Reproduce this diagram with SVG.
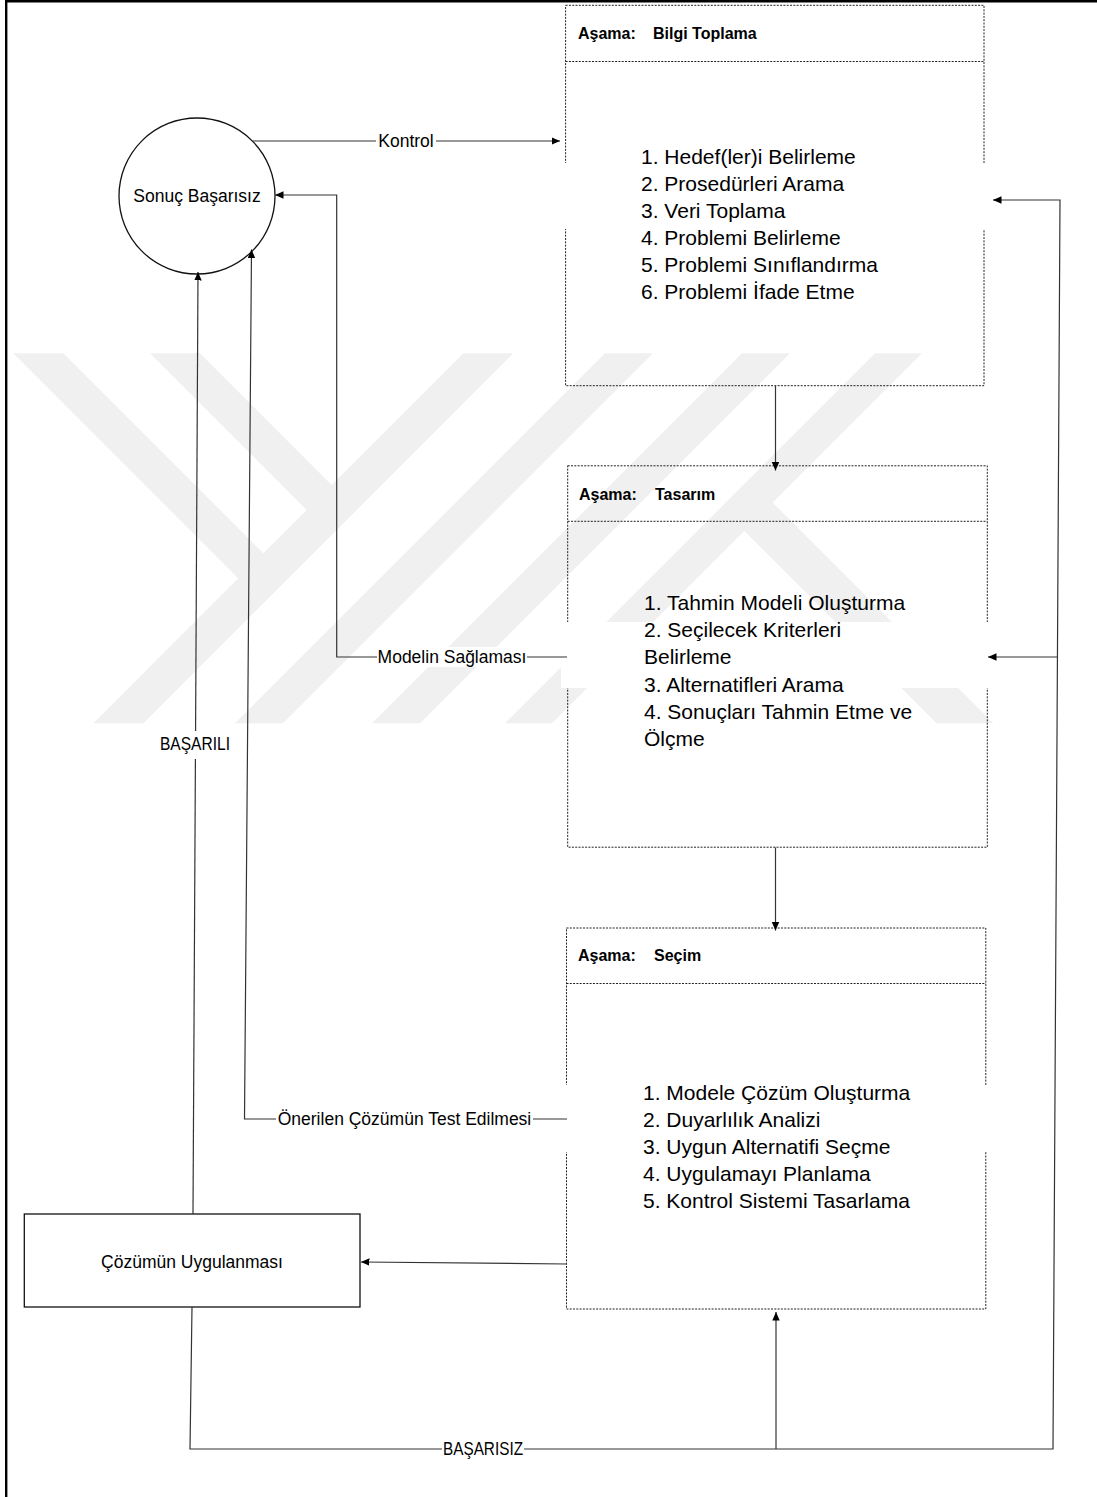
<svg xmlns="http://www.w3.org/2000/svg" width="1097" height="1497" viewBox="0 0 1097 1497">
<style>
  .wm { fill: #f0f0f0; stroke: none; }
  .stage { fill: none; stroke: #222; stroke-width: 1; stroke-dasharray: 2 1.3; }
  .tb { fill: #fff; stroke: none; }
  .hdr { font-family: "Liberation Sans", Arial, sans-serif; font-size: 16px; font-weight: bold; fill: #000; }
  .item { font-family: "Liberation Sans", Arial, sans-serif; font-size: 21px; fill: #000; }
  .lbl { font-family: "Liberation Sans", Arial, sans-serif; font-size: 17.5px; fill: #000; }
  .solid { fill: #fff; stroke: #111; stroke-width: 1.3; }
  .conn { fill: none; stroke: #333; stroke-width: 1.2; }
  .lblbg { fill: #fff; stroke: none; }
</style>
<defs>
  <marker id="ah" markerUnits="userSpaceOnUse" markerWidth="9" markerHeight="8" refX="8.5" refY="3.75" orient="auto">
    <path d="M0,0 L8.5,3.75 L0,7.5 z" fill="#000"/>
  </marker>
</defs>
<rect x="0" y="0" width="1097" height="1497" fill="#fff"/>

<g id="watermark">
  <polygon class="wm" points="13.3,353.3 63.3,353.3 288.3,578.3 263.3,603.3"/>
  <polygon class="wm" points="150,353.3 200,353.3 356.7,510 331.7,535"/>
  <polygon class="wm" points="93.3,723.3 143.3,723.3 513.3,353.3 463.3,353.3"/>
  <polygon class="wm" points="235,723.3 283,723.3 653,353.3 605,353.3"/>
  <polygon class="wm" points="372,723.3 420,723.3 790,353.3 742,353.3"/>
  <polygon class="wm" points="505,723.3 552,723.3 922,353.3 875,353.3"/>
  <polygon class="wm" points="749.2,479.2 993.3,723.3 936.7,723.3 720.9,507.5"/>
</g>

<g id="page-border">
  <line x1="6.2" y1="0" x2="6.2" y2="1497" stroke="#000" stroke-width="2.4"/>
  <line x1="5" y1="1.3" x2="1097" y2="1.3" stroke="#000" stroke-width="2.4"/>
</g>

<g id="node-sonuc">
  <circle cx="197" cy="196" r="78" fill="#fff" stroke="#111" stroke-width="1.3"/>
  <text class="lbl" x="197" y="202" text-anchor="middle">Sonuç Başarısız</text>
</g>

<g id="node-bilgi">
  <rect class="stage" x="565.6" y="5.3" width="418.4" height="380.4"/>
  <line class="stage" x1="565.6" y1="61.5" x2="984" y2="61.5"/>
  <rect class="tb" x="559" y="163" width="433" height="66"/>
  <text class="hdr" x="578" y="39">Aşama:</text>
  <text class="hdr" x="653" y="39">Bilgi Toplama</text>
  <text class="item" x="641" y="164">1. Hedef(ler)i Belirleme</text>
  <text class="item" x="641" y="191">2. Prosedürleri Arama</text>
  <text class="item" x="641" y="218">3. Veri Toplama</text>
  <text class="item" x="641" y="245">4. Problemi Belirleme</text>
  <text class="item" x="641" y="272">5. Problemi Sınıflandırma</text>
  <text class="item" x="641" y="299">6. Problemi İfade Etme</text>
</g>

<g id="node-tasarim">
  <rect class="stage" x="567.7" y="465.8" width="419.6" height="381.4"/>
  <line class="stage" x1="567.7" y1="521.3" x2="987.3" y2="521.3"/>
  <rect class="tb" x="561" y="622" width="427.5" height="66"/>
  <text class="hdr" x="579" y="500">Aşama:</text>
  <text class="hdr" x="655" y="500">Tasarım</text>
  <text class="item" x="644" y="609.5">1. Tahmin Modeli Oluşturma</text>
  <text class="item" x="644" y="637">2. Seçilecek Kriterleri</text>
  <text class="item" x="644" y="664">Belirleme</text>
  <text class="item" x="644" y="691.5">3. Alternatifleri Arama</text>
  <text class="item" x="644" y="719">4. Sonuçları Tahmin Etme ve</text>
  <text class="item" x="644" y="746">Ölçme</text>
</g>

<g id="node-secim">
  <rect class="stage" x="566.5" y="928" width="419.3" height="381"/>
  <line class="stage" x1="566.5" y1="983.5" x2="985.8" y2="983.5"/>
  <rect class="tb" x="560" y="1085" width="432" height="67"/>
  <text class="hdr" x="578" y="961">Aşama:</text>
  <text class="hdr" x="654" y="961">Seçim</text>
  <text class="item" x="643" y="1099.5">1. Modele Çözüm Oluşturma</text>
  <text class="item" x="643" y="1126.5">2. Duyarlılık Analizi</text>
  <text class="item" x="643" y="1153.5">3. Uygun Alternatifi Seçme</text>
  <text class="item" x="643" y="1180.5">4. Uygulamayı Planlama</text>
  <text class="item" x="643" y="1207.5">5. Kontrol Sistemi Tasarlama</text>
</g>

<g id="node-uygulama">
  <rect class="solid" x="24.3" y="1214" width="335.7" height="93"/>
  <text class="lbl" x="192" y="1268" text-anchor="middle">Çözümün Uygulanması</text>
</g>

<g id="connectors">
  <path class="conn" d="M252.5,141 H560" marker-end="url(#ah)"/>
  <path class="conn" d="M567,657 H336.7 V195 H275" marker-end="url(#ah)"/>
  <path class="conn" d="M567,1119 H244.5 L251.5,249.5" marker-end="url(#ah)"/>
  <path class="conn" d="M193,1214 L198,272" marker-end="url(#ah)"/>
  <path class="conn" d="M775.5,386 V470.5" marker-end="url(#ah)"/>
  <path class="conn" d="M775.5,847.5 V930.5" marker-end="url(#ah)"/>
  <path class="conn" d="M567,1264 L361,1262" marker-end="url(#ah)"/>
  <path class="conn" d="M192,1307 L190,1449 H1053 L1060,200 H993" marker-end="url(#ah)"/>
  <path class="conn" d="M1057,657 H988" marker-end="url(#ah)"/>
  <path class="conn" d="M776,1449 V1312" marker-end="url(#ah)"/>

  <rect class="lblbg" x="376" y="131" width="60" height="20"/>
  <text class="lbl" x="406" y="147" text-anchor="middle">Kontrol</text>
  <rect class="lblbg" x="377" y="647" width="150" height="20"/>
  <text class="lbl" x="452" y="663" text-anchor="middle">Modelin Sağlaması</text>
  <rect class="lblbg" x="276" y="1109" width="257" height="20"/>
  <text class="lbl" x="404.5" y="1125" text-anchor="middle">Önerilen Çözümün Test Edilmesi</text>
  <rect class="lblbg" x="158" y="731" width="74" height="28"/>
  <text class="lbl" x="195" y="750" text-anchor="middle" textLength="70" lengthAdjust="spacingAndGlyphs">BAŞARILI</text>
  <rect class="lblbg" x="442" y="1439" width="82" height="20"/>
  <text class="lbl" x="483" y="1455" text-anchor="middle" textLength="80" lengthAdjust="spacingAndGlyphs">BAŞARISIZ</text>
</g>
</svg>
